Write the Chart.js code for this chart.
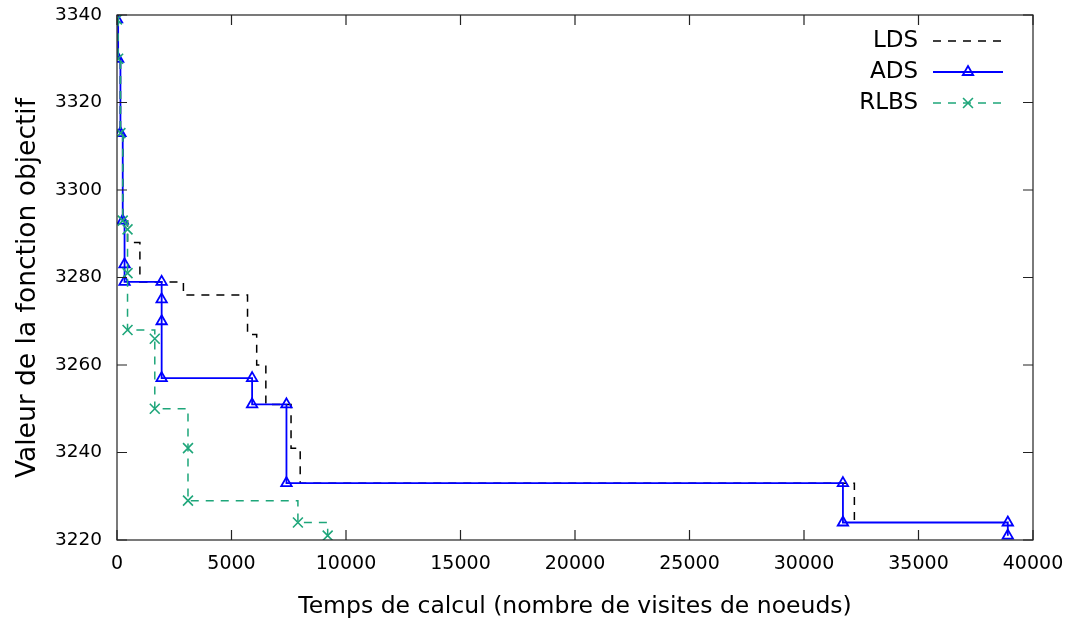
<!DOCTYPE html>
<html>
<head>
<meta charset="utf-8">
<title>Valeur de la fonction objectif</title>
<script src="https://cdn.jsdelivr.net/npm/chart.js@4.4.0/dist/chart.umd.min.js"></script>
<style>
    html, body { margin: 0; padding: 0; background: #fff; }
    #wrap { width: 1070px; height: 630px; }
</style>
</head>
<body>
<div id="wrap"><canvas id="chart" width="1070" height="630"></canvas></div>
<script>
(function () {
    "use strict";

    // LDS (step points, no markers)
    var ldsX = [0, 50, 150, 250, 460, 1000, 2900, 5700, 6100, 6500, 7600, 8000, 32200];
    var ldsY = [3339, 3330, 3313, 3293, 3288, 3279, 3276, 3267, 3260, 3251, 3241, 3233, 3224];

    // ADS (triangles)
    var adsX = [0, 50, 150, 250, 330, 330, 1950, 1950, 1950, 1950, 5900, 5900, 7400, 7400, 31700, 31700, 38900, 38900];
    var adsY = [3339, 3330, 3313, 3293, 3283, 3279, 3279, 3275, 3270, 3257, 3257, 3251, 3251, 3233, 3233, 3224, 3224, 3221];

    // RLBS (crosses)
    var rlbsX = [0, 50, 150, 250, 460, 460, 460, 1650, 1650, 3100, 3100, 7900, 9200];
    var rlbsY = [3339, 3330, 3313, 3293, 3291, 3281, 3268, 3266, 3250, 3241, 3229, 3224, 3221];

    // axis ticks
    var xTicks = [0, 5000, 10000, 15000, 20000, 25000, 30000, 35000, 40000];
    var yTicks = [3220, 3240, 3260, 3280, 3300, 3320, 3340];

    var FONT = "'DejaVu Sans', Verdana, sans-serif";
    var GREEN = "#1ea67a";
    var Y_TITLE = "Valeur de la fonction objectif";

    function pts(xs, ys) {
        return xs.map(function (x, i) { return {x: x, y: ys[i]}; });
    }

    // inward ticks on all four sides + frame + y title
    var frame = {
        id: "frame",
        afterDraw: function (chart) {
            var ctx = chart.ctx, a = chart.chartArea;
            var sx = chart.scales.x, sy = chart.scales.y, L = 10;
            ctx.save();
            ctx.strokeStyle = "#222";
            ctx.lineWidth = 1.2;
            ctx.beginPath();
            xTicks.forEach(function (v) {
                var px = sx.getPixelForValue(v);
                ctx.moveTo(px, a.bottom); ctx.lineTo(px, a.bottom - L);
                ctx.moveTo(px, a.top); ctx.lineTo(px, a.top + L);
            });
            yTicks.forEach(function (v) {
                var py = sy.getPixelForValue(v);
                ctx.moveTo(a.left, py); ctx.lineTo(a.left + L, py);
                ctx.moveTo(a.right, py); ctx.lineTo(a.right - L, py);
            });
            ctx.stroke();
            ctx.strokeRect(a.left, a.top, a.right - a.left, a.bottom - a.top);

            // y title sits a bit below the plot centre in the original
            ctx.translate(28, 288);
            ctx.rotate(-Math.PI / 2);
            ctx.font = "26.5px " + FONT;
            ctx.fillStyle = "#000";
            ctx.textAlign = "center";
            ctx.textBaseline = "middle";
            ctx.fillText(Y_TITLE, 0, 0);
            ctx.restore();
        }
    };

    // gnuplot style key: text right-aligned, sample on the right
    var key = {
        id: "key",
        afterDraw: function (chart) {
            var ctx = chart.ctx;
            ctx.save();
            ctx.font = "23px " + FONT;
            ctx.textAlign = "right";
            ctx.textBaseline = "middle";
            chart.data.datasets.forEach(function (ds, i) {
                var y = 41 + i * 31;
                ctx.fillStyle = "#000";
                ctx.fillText(ds.label, 918, y);
                ctx.strokeStyle = ds.borderColor;
                ctx.lineWidth = ds.borderWidth;
                ctx.setLineDash(ds.borderDash || []);
                ctx.beginPath();
                ctx.moveTo(933, y);
                ctx.lineTo(1003, y);
                ctx.stroke();
                ctx.setLineDash([]);
                if (ds.pointRadius > 0) {
                    ctx.fillStyle = ds.pointBackgroundColor;
                    ctx.lineWidth = ds.pointBorderWidth;
                    Chart.helpers.drawPoint(ctx, {
                        pointStyle: ds.pointStyle,
                        radius: ds.pointRadius,
                        borderWidth: ds.pointBorderWidth,
                        rotation: 0
                    }, 968, y);
                }
            });
            ctx.restore();
        }
    };

    var ctx1 = document.getElementById("chart").getContext("2d");
    var myChart1 = new Chart(ctx1, {
        type: "line",
        data: {
            datasets: [{
                    label: "LDS",
                    data: pts(ldsX, ldsY),
                    borderColor: "#000",
                    borderWidth: 1.5,
                    borderDash: [8, 7],
                    stepped: true,
                    pointRadius: 0,
                    order: 2
                },
                {
                    label: "ADS",
                    data: pts(adsX, adsY),
                    borderColor: "#0000ff",
                    borderWidth: 1.8,
                    stepped: true,
                    pointStyle: "triangle",
                    pointRadius: 6,
                    pointBorderWidth: 1.8,
                    pointBorderColor: "#0000ff",
                    pointBackgroundColor: "rgba(0,0,0,0)",
                    order: 1
                },
                {
                    label: "RLBS",
                    data: pts(rlbsX, rlbsY),
                    borderColor: GREEN,
                    borderWidth: 1.5,
                    borderDash: [8, 7],
                    stepped: true,
                    pointStyle: "crossRot",
                    pointRadius: 7,
                    pointBorderWidth: 1.6,
                    pointBorderColor: GREEN,
                    pointBackgroundColor: GREEN,
                    order: 0
                }
            ]
        },
        options: {
            responsive: false,
            animation: false,
            layout: {padding: {left: 0, right: 37, top: 15, bottom: 0}},
            plugins: {
                legend: {display: false},
                tooltip: {enabled: false}
            },
            scales: {
                x: {
                    type: "linear",
                    min: 0,
                    max: 40000,
                    afterFit: function (s) {
                        s.height = 90;
                        s.paddingLeft = 0;
                        s.paddingRight = 0;
                    },
                    afterBuildTicks: function (s) {
                        s.ticks = xTicks.map(function (v) { return {value: v}; });
                    },
                    grid: {display: false, drawTicks: false},
                    border: {display: false},
                    ticks: {
                        color: "#000",
                        padding: 13,
                        maxRotation: 0,
                        font: {family: FONT, size: 19},
                        callback: function (v) { return String(v); }
                    },
                    title: {
                        display: true,
                        text: "Temps de calcul (nombre de visites de noeuds)",
                        color: "#000",
                        font: {family: FONT, size: 23.5},
                        padding: {top: 0, bottom: 9}
                    }
                },
                y: {
                    min: 3220,
                    max: 3340,
                    afterFit: function (s) {
                        s.width = 117;
                        s.paddingTop = 0;
                        s.paddingBottom = 0;
                    },
                    afterBuildTicks: function (s) {
                        s.ticks = yTicks.map(function (v) { return {value: v}; });
                    },
                    grid: {display: false, drawTicks: false},
                    border: {display: false},
                    ticks: {
                        color: "#000",
                        padding: 15,
                        font: {family: FONT, size: 18.5},
                        callback: function (v) { return String(v); }
                    },
                    title: {display: false}
                }
            }
        },
        plugins: [frame, key]
    });

})();
</script>
</body>
</html>
